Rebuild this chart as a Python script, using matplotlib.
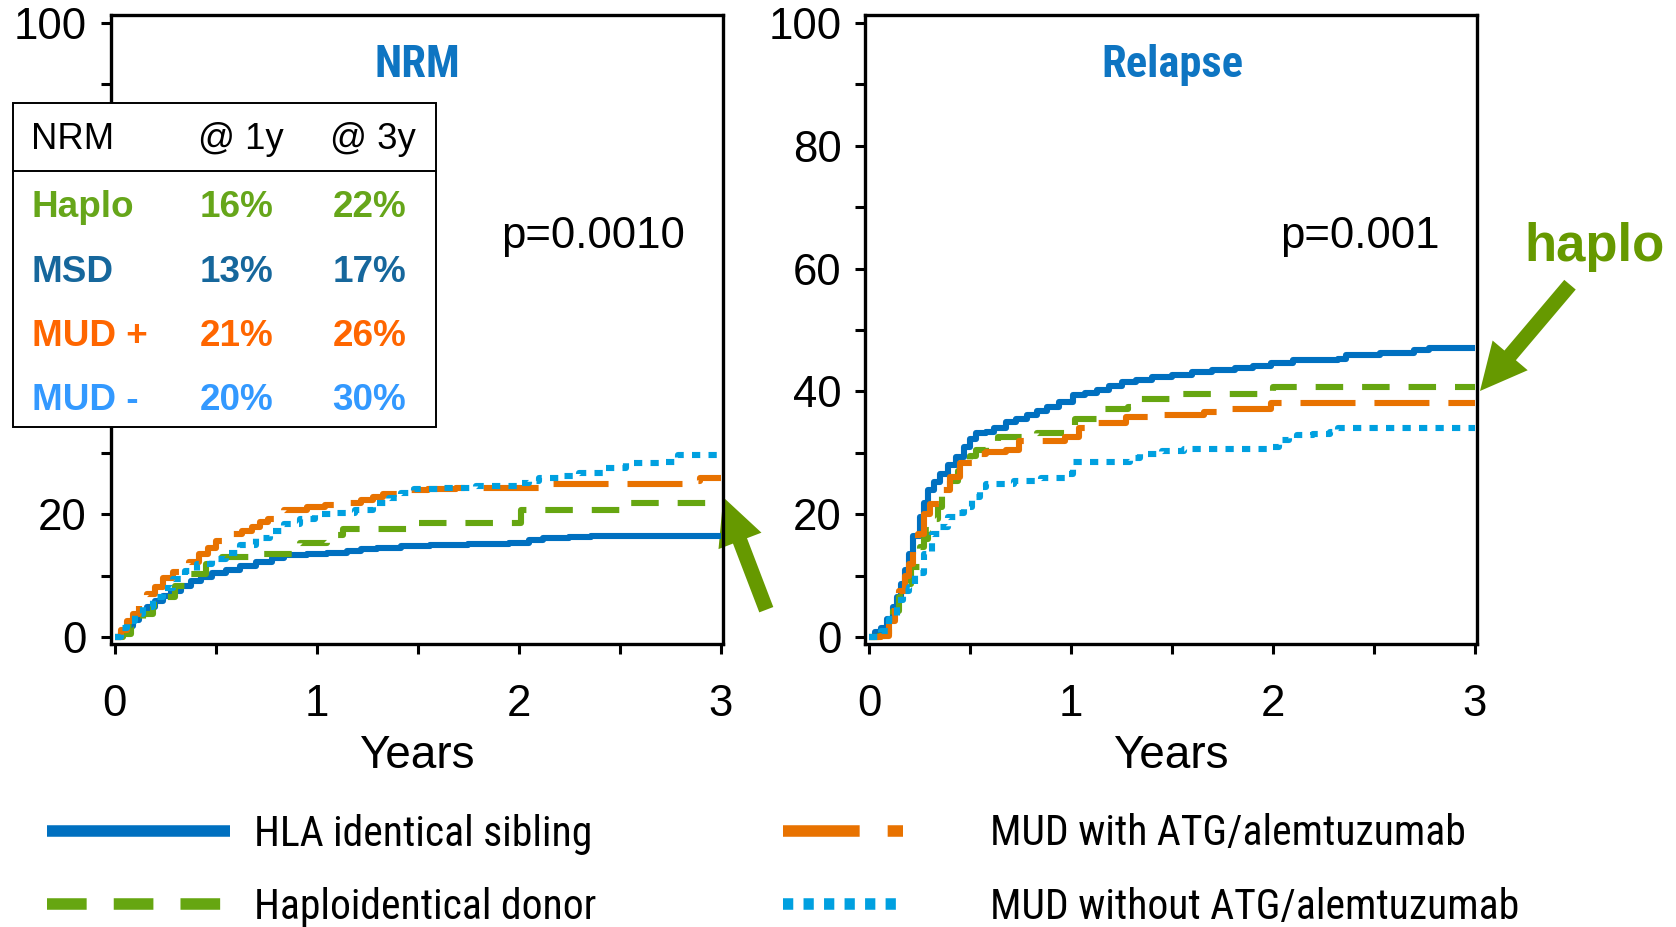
import matplotlib
matplotlib.use("Agg")
import matplotlib.pyplot as plt
from matplotlib import font_manager
from matplotlib.lines import Line2D
from matplotlib.patches import Rectangle, FancyArrowPatch
from matplotlib.ticker import MultipleLocator

# ---------------------------------------------------------------- data
# Cumulative incidence (%) step curves, time in years.
nrm_sib_t = [0, 0.03, 0.06, 0.09, 0.12, 0.16, 0.2, 0.24, 0.28, 0.33, 0.38, 0.43, 0.48,
             0.55, 0.62, 0.7, 0.78, 0.84, 0.95, 1.05, 1.15, 1.22, 1.3, 1.42, 1.56, 1.75,
             1.95, 2.05, 2.12, 2.25, 2.36, 3.0]
nrm_sib_v = [0, 0.8, 1.8, 2.8, 3.8, 4.9, 5.9, 6.8, 7.6, 8.4, 9.1, 9.8, 10.4,
             11.0, 11.6, 12.3, 12.9, 13.4, 13.6, 13.8, 14.0, 14.3, 14.6, 14.8, 15.0, 15.2,
             15.4, 15.9, 16.2, 16.3, 16.5, 16.5]

nrm_hap_t = [0, 0.04, 0.08, 0.11, 0.14, 0.19, 0.24, 0.3, 0.37, 0.45, 0.53, 0.72, 0.92,
             1.05, 1.13, 1.45, 2.01, 2.5, 3.0]
nrm_hap_v = [0, 0.6, 1.8, 2.8, 3.8, 5.2, 6.5, 8.3, 10.3, 12.0, 13.0, 13.6, 15.4,
             16.6, 17.6, 18.6, 20.8, 21.9, 21.9]

nrm_mudw_t = [0, 0.03, 0.06, 0.09, 0.12, 0.16, 0.2, 0.24, 0.29, 0.33, 0.37, 0.42, 0.46,
              0.5, 0.58, 0.63, 0.68, 0.72, 0.76, 0.84, 0.95, 1.04, 1.14, 1.22, 1.28, 1.33,
              1.43, 1.55, 1.69, 2.13, 2.3, 2.82, 2.9, 3.0]
nrm_mudw_v = [0, 1.2, 2.6, 3.8, 5.2, 7.0, 8.2, 9.6, 10.6, 11.2, 12.2, 13.6, 14.6,
              15.6, 16.8, 17.3, 17.9, 18.7, 19.3, 20.7, 21.2, 21.6, 21.8, 22.4, 22.9, 23.3,
              24.0, 24.2, 24.3, 24.9, 25.0, 25.4, 26.0, 26.0]

nrm_mudwo_t = [0, 0.03, 0.06, 0.1, 0.14, 0.19, 0.24, 0.29, 0.35, 0.41, 0.48, 0.55, 0.62,
               0.7, 0.77, 0.84, 0.92, 0.99, 1.1, 1.19, 1.28, 1.36, 1.42, 1.48, 1.6, 1.79,
               1.99, 2.05, 2.1, 2.2, 2.3, 2.42, 2.53, 2.73, 2.79, 3.0]
nrm_mudwo_v = [0, 1.5, 2.6, 3.8, 5.0, 6.5, 8.0, 9.5, 10.8, 11.9, 12.8, 13.8, 15.0,
               16.2, 17.3, 18.4, 19.3, 20.0, 20.3, 20.8, 21.8, 22.7, 23.5, 24.1, 24.3, 24.6,
               25.1, 25.5, 25.9, 26.3, 26.8, 27.6, 28.4, 28.6, 29.7, 29.7]

rel_sib_t = [0, 0.03, 0.06, 0.09, 0.12, 0.14, 0.16, 0.18, 0.2, 0.22, 0.25, 0.27, 0.29,
             0.32, 0.35, 0.39, 0.43, 0.47, 0.5, 0.53, 0.58, 0.62, 0.68, 0.73, 0.78, 0.83,
             0.88, 0.94, 1.01, 1.07, 1.13, 1.19, 1.25, 1.32, 1.4, 1.5, 1.6, 1.7, 1.81,
             1.9, 1.99, 2.1, 2.32, 2.36, 2.53, 2.7, 2.77, 3.0]
rel_sib_v = [0, 0.8, 1.6, 3.0, 4.9, 6.5, 8.7, 11.0, 13.6, 16.5, 19.6, 21.8, 23.9,
             25.2, 26.6, 28.0, 29.3, 31.0, 32.2, 33.2, 33.4, 34.0, 35.0, 35.5, 36.1, 36.8,
             37.5, 38.3, 39.4, 39.7, 40.2, 40.9, 41.5, 41.9, 42.3, 42.7, 43.1, 43.5, 43.9,
             44.1, 44.6, 45.1, 45.3, 45.9, 46.3, 46.7, 47.1, 47.1]

rel_hap_t = [0, 0.05, 0.08, 0.1, 0.12, 0.15, 0.18, 0.21, 0.25, 0.27, 0.29, 0.31, 0.34,
             0.36, 0.4, 0.44, 0.47, 0.5, 0.53, 0.58, 0.64, 0.83, 1.02, 1.16, 1.28, 1.34,
             1.54, 2.0, 3.0]
rel_hap_v = [0, 0.3, 0.5, 1.5, 4.3, 6.5, 8.7, 11.5, 14.7, 16.0, 17.4, 19.2, 21.2,
             23.4, 25.5, 27.0, 28.3, 29.5, 30.4, 31.5, 32.6, 33.2, 35.6, 37.1, 37.4, 38.8,
             39.6, 40.8, 40.8]

rel_mudw_t = [0, 0.06, 0.1, 0.13, 0.15, 0.18, 0.2, 0.22, 0.24, 0.27, 0.3, 0.35, 0.4,
              0.45, 0.51, 0.58, 0.68, 0.74, 0.84, 0.97, 1.04, 1.13, 1.27, 1.44, 1.66,
              1.77, 1.99, 3.0]
rel_mudw_v = [0, 0.3, 2.7, 5.0, 7.6, 10.0, 12.0, 14.5, 16.8, 20.1, 21.7, 23.9, 26.1,
              28.3, 29.9, 30.2, 30.4, 32.0, 32.0, 32.6, 34.0, 34.8, 35.9, 36.1, 36.7,
              37.2, 38.2, 38.2]

rel_mudwo_t = [0, 0.06, 0.1, 0.14, 0.17, 0.2, 0.23, 0.27, 0.31, 0.35, 0.39, 0.43, 0.47,
               0.51, 0.55, 0.58, 0.72, 0.85, 0.97, 1.01, 1.29, 1.34, 1.45, 1.56, 1.99,
               2.03, 2.08, 2.12, 2.2, 2.28, 2.32, 3.0]
rel_mudwo_v = [0, 1.1, 3.0, 6.0, 7.5, 8.2, 10.5, 13.6, 16.8, 18.0, 19.6, 20.3, 21.2,
               22.8, 24.5, 25.0, 25.5, 26.0, 26.6, 28.5, 29.1, 29.9, 30.3, 30.7, 31.0,
               32.1, 32.5, 32.9, 33.1, 33.4, 34.0, 34.0]

# NRM summary table
table_rows = ["Haplo", "MSD", "MUD +", "MUD -"]
nrm_1y = [16, 13, 21, 20]
nrm_3y = [22, 17, 26, 30]

legend_labels = ["HLA identical sibling", "Haploidentical donor",
                 "MUD with ATG/alemtuzumab", "MUD without ATG/alemtuzumab"]
x_ticks = [0, 1, 2, 3]
y_ticks = [0, 20, 40, 60, 80, 100]

# ---------------------------------------------------------------- style
W, H, DPI = 1676, 927, 100
names = {f.name for f in font_manager.fontManager.ttflist}
BASE = "Liberation Sans" if "Liberation Sans" in names else "DejaVu Sans"
NARROW = next((n for n in ("Liberation Sans Narrow", "Arial Narrow", "Roboto Condensed",
                           "Archivo Narrow", "PT Sans Narrow") if n in names), BASE)
plt.rcParams["font.family"] = [BASE, "DejaVu Sans"]

C_SIB = "#0070C0"
C_HAP = "#66A611"
C_MUDW = "#E87200"
C_MUDWO = "#00A0E0"
C_TITLE = "#0E75C2"
C_ARROW = "#669900"
table_colors = ["#66A61A", "#16679C", "#FF6600", "#3399FF"]

LW = 4.4
styles = {
    "sib": dict(color=C_SIB, lw=LW, solid_capstyle="butt"),
    "hap": dict(color=C_HAP, lw=LW, dashes=(4.5, 3.1), dash_capstyle="butt"),
    "mudw": dict(color=C_MUDW, lw=LW, dashes=(9.0, 3.1), dash_capstyle="butt"),
    "mudwo": dict(color=C_MUDWO, lw=LW, dashes=(1.35, 1.35), dash_capstyle="butt"),
}

fig = plt.figure(figsize=(W / DPI, H / DPI), dpi=DPI)


def fx(px):
    return px / W


def fy(py):
    return 1 - py / H


ax_top, ax_bot = 14.7, 643.5
ax_nrm = fig.add_axes([fx(110.6), fy(ax_bot), (722.6 - 110.6) / W, (ax_bot - ax_top) / H])
ax_rel = fig.add_axes([fx(865.0), fy(ax_bot), (1477.0 - 865.0) / W, (ax_bot - ax_top) / H])

panels = [
    (ax_nrm, "NRM", "p=0.0010", 1.913,
     [(nrm_sib_t, nrm_sib_v, "sib"), (nrm_hap_t, nrm_hap_v, "hap"),
      (nrm_mudw_t, nrm_mudw_v, "mudw"), (nrm_mudwo_t, nrm_mudwo_v, "mudwo")]),
    (ax_rel, "Relapse", "p=0.001", 2.037,
     [(rel_sib_t, rel_sib_v, "sib"), (rel_hap_t, rel_hap_v, "hap"),
      (rel_mudw_t, rel_mudw_v, "mudw"), (rel_mudwo_t, rel_mudwo_v, "mudwo")]),
]

for ax, title, ptxt, px_, curves in panels:
    ax.set_facecolor("none")
    for t, v, key in curves:
        ax.plot(t, v, drawstyle="steps-post", **styles[key])
    ax.set_xlim(-0.02, 3.01)
    ax.set_ylim(-1.0, 101.3)
    ax.set_xticks(x_ticks)
    ax.set_yticks(y_ticks)
    ax.xaxis.set_minor_locator(MultipleLocator(0.5))
    ax.yaxis.set_minor_locator(MultipleLocator(10))
    for s in ax.spines.values():
        s.set_linewidth(2.4)
    ax.tick_params(which="both", direction="out", length=7, width=2.2, color="black")
    ax.tick_params(axis="x", which="major", pad=22, labelsize=31.5)
    ax.tick_params(axis="y", which="major", pad=10, labelsize=31.5)
    ax.set_xlabel("Years", fontsize=33, labelpad=7)
    ax.text(1.5, 91.2, title, ha="center", va="baseline", fontsize=32,
            fontweight="bold", color=C_TITLE, family=[NARROW, "DejaVu Sans"])
    ax.text(px_, 63.4, ptxt, ha="left", va="baseline", fontsize=31.5, color="black")

# the middle y labels of the NRM panel sit under the summary table
ax_nrm.set_yticklabels([str(v) if v in (0, 20, 100) else "" for v in y_ticks])

# ---------------------------------------------------------------- NRM table
tl, tr, tt, tb, tsep = 12.7, 436.0, 103.3, 426.7, 171.0
fig.add_artist(Rectangle((fx(tl), fy(tb)), (tr - tl) / W, (tb - tt) / H,
                         transform=fig.transFigure, facecolor="white",
                         edgecolor="black", lw=1.4, zorder=5))
fig.add_artist(Line2D([fx(tl), fx(tr)], [fy(tsep), fy(tsep)],
                      transform=fig.transFigure, color="black", lw=1.4, zorder=6))
hdr_base = 149.3
for x, s in [(30.6, "NRM"), (198.0, "@ 1y"), (330.0, "@ 3y")]:
    fig.text(fx(x), fy(hdr_base), s, fontsize=26.3, va="baseline", ha="left",
             color="black", zorder=7)
row_base = [216.7, 281.7, 345.7, 410.0]
for lab, a, b, col, yb in zip(table_rows, nrm_1y, nrm_3y, table_colors, row_base):
    for x, s in [(31.6, lab), (200.0, f"{a}%"), (332.5, f"{b}%")]:
        fig.text(fx(x), fy(yb), s, fontsize=26.6, fontweight="bold", va="baseline",
                 ha="left", color=col, zorder=7)

# ---------------------------------------------------------------- arrows + label
arrow_style = "simple,head_length=3.36,head_width=3.31,tail_width=1.08"
for (tip_x, tip_y), (tail_x, tail_y) in [((723.3, 497.3), (766.3, 609.7)),
                                         ((1480.0, 391.0), (1570.0, 284.7))]:
    fig.add_artist(FancyArrowPatch((fx(tail_x), fy(tail_y)), (fx(tip_x), fy(tip_y)),
                                   transform=fig.transFigure, arrowstyle=arrow_style,
                                   mutation_scale=10, color=C_ARROW, lw=0,
                                   shrinkA=0, shrinkB=0, zorder=-1))
fig.text(fx(1594.5), fy(260.7), "haplo", fontsize=38, fontweight="bold",
         color=C_ARROW, ha="center", va="baseline")

# ---------------------------------------------------------------- legend
LLW = 8.3
h_sib = Line2D([], [], color=C_SIB, lw=LLW, solid_capstyle="butt")
h_hap = Line2D([], [], color=C_HAP, lw=LLW, dashes=(3.44, 2.35), dash_capstyle="butt")
h_mudw = Line2D([], [], color=C_MUDW, lw=LLW, dashes=(6.65, 2.43, 1.33, 2.43),
                dash_capstyle="butt")
h_mudwo = Line2D([], [], color=C_MUDWO, lw=LLW, dashes=(0.89, 0.89), dash_capstyle="butt")

leg_prop = dict(family=[NARROW, "DejaVu Sans"], size=30)
leg_common = dict(loc="center left", frameon=False, borderpad=0, borderaxespad=0,
                  labelspacing=0.77, prop=leg_prop)
fig.legend([h_sib, h_hap], legend_labels[:2], bbox_to_anchor=(fx(47.4), fy(871.0)),
           handlelength=4.39, handletextpad=0.58, **leg_common)
fig.legend([h_mudw, h_mudwo], legend_labels[2:], bbox_to_anchor=(fx(783.0), fy(870.5)),
           handlelength=2.88, handletextpad=2.08, **leg_common)

fig.savefig("out.png", dpi=DPI)
